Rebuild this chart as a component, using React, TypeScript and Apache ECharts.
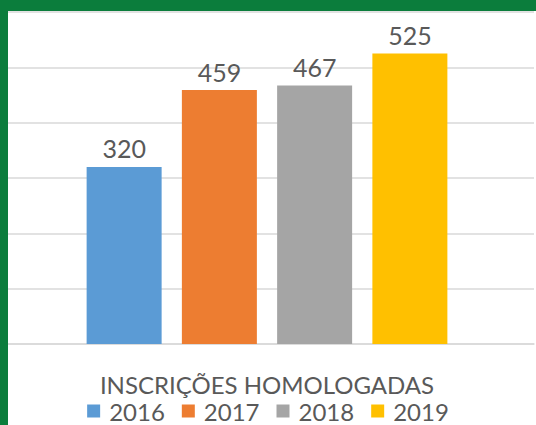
import React, { useEffect, useRef } from "react";
import * as echarts from "echarts";

const categories = ["INSCRIÇÕES HOMOLOGADAS"];
const years = ["2016", "2017", "2018", "2019"];
const values = [320, 459, 467, 525];
const colors = ["#5B9BD5", "#ED7D31", "#A5A5A5", "#FFC000"];
const yTicks = { min: 0, max: 600, interval: 100 };

export default function App() {
  const ref = useRef<HTMLDivElement>(null);
  useEffect(() => {
    if (!ref.current) return;
    const chart = echarts.init(ref.current, null, { renderer: "svg" });
    const font = "Lato, 'Open Sans', sans-serif";
    chart.setOption({
      animation: false,
      backgroundColor: "#ffffff",
      grid: { left: 0, right: 2, top: 12, bottom: 81, containLabel: false },
      xAxis: {
        type: "category",
        data: categories,
        axisLine: { show: true, lineStyle: { color: "#D9D9D9", width: 1.5 } },
        axisTick: { show: false },
        axisLabel: {
          color: "#595959",
          fontFamily: font,
          fontSize: 24,
          lineHeight: 20,
          margin: 30,
        },
      },
      yAxis: {
        type: "value",
        min: yTicks.min,
        max: yTicks.max,
        interval: yTicks.interval,
        axisLabel: { show: false },
        axisLine: { show: false },
        axisTick: { show: false },
        splitLine: { lineStyle: { color: "#D9D9D9", width: 1.5 } },
      },
      legend: {
        data: years,
        top: 399,
        left: "center",
        padding: 0,
        itemWidth: 13,
        itemHeight: 13,
        itemGap: 17,
        icon: "rect",
        textStyle: {
          color: "#595959",
          fontFamily: font,
          fontSize: 24,
          lineHeight: 20,
          padding: [0, 0, 0, 4],
        },
      },
      series: years.map((y, i) => ({
        name: y,
        type: "bar",
        data: [values[i]],
        barWidth: 75,
        barGap: "27%",
        itemStyle: { color: colors[i] },
        label: {
          show: true,
          position: "top",
          distance: 6,
          color: "#595959",
          fontFamily: font,
          fontSize: 25,
        },
      })),
      graphic: [
        { type: "rect", z: 100, shape: { x: 0, y: 0, width: 536, height: 11 }, style: { fill: "#0B7D3C" } },
        { type: "rect", z: 100, shape: { x: 0, y: 0, width: 8, height: 425 }, style: { fill: "#0B7D3C" } },
      ],
    });
    return () => chart.dispose();
  }, []);
  return (
    <div
      ref={ref}
      style={{ position: "absolute", left: 0, top: 0, width: 536, height: 425, background: "#fff" }}
    />
  );
}
